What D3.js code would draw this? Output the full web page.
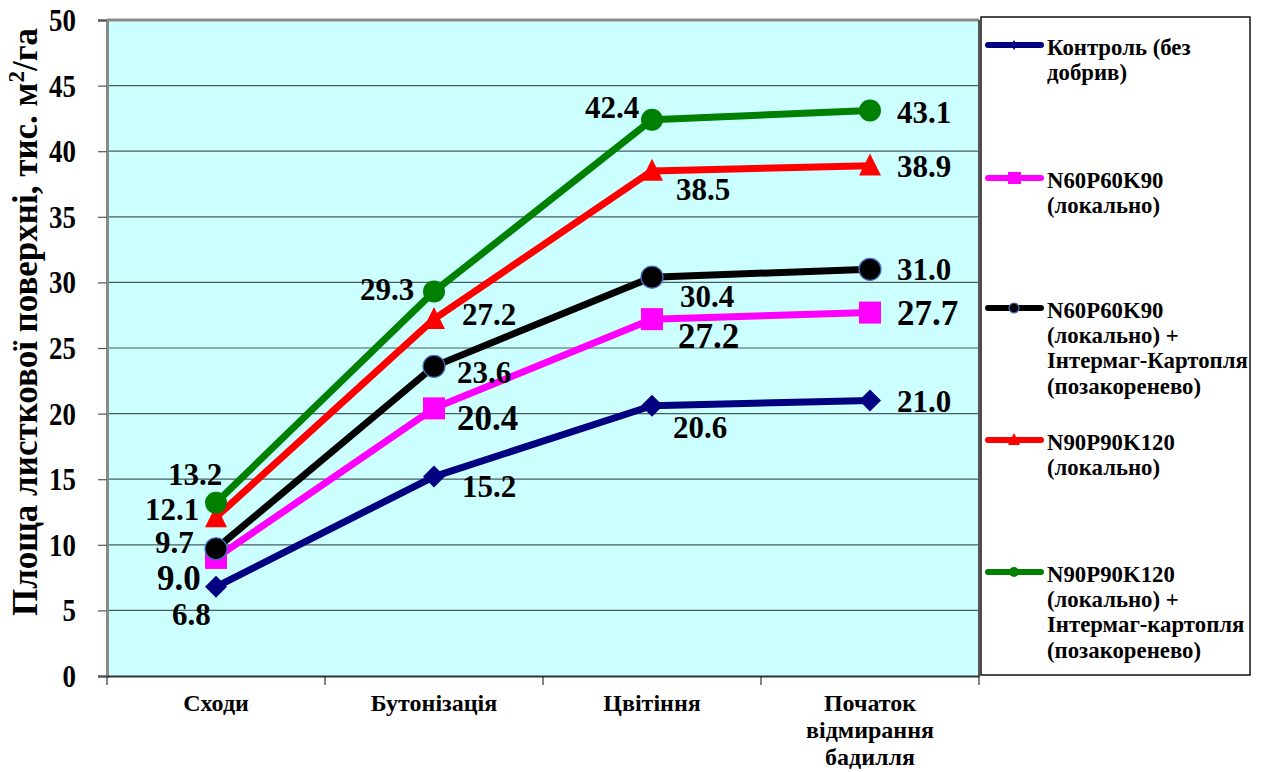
<!DOCTYPE html>
<html>
<head>
<meta charset="utf-8">
<script src="https://cdn.jsdelivr.net/npm/d3@7"></script>
<style>
  html, body { margin: 0; padding: 0; background: #ffffff; }
  svg { display: block; }
</style>
</head>
<body>
<svg id="chart" width="1261" height="772"></svg>
<script>
// Growth phases (x categories)
const categories = ["Сходи", "Бутонізація", "Цвітіння", "Початок\nвідмирання\nбадилля"];

// Leaf surface area, thousand m²/ha, per variant
const control        = [6.8, 15.2, 20.6, 21.0];
const npk60          = [9.0, 20.4, 27.2, 27.7];
const npk60Intermag  = [9.7, 23.6, 30.4, 31.0];
const npk90          = [12.1, 27.2, 38.5, 38.9];
const npk90Intermag  = [13.2, 29.3, 42.4, 43.1];

const seriesNames = [
  "Контроль (без\nдобрив)",
  "N60P60K90\n(локально)",
  "N60P60K90\n(локально) +\nІнтермаг-Картопля\n(позакоренево)",
  "N90P90K120\n(локально)",
  "N90P90K120\n(локально) +\nІнтермаг-картопля\n(позакоренево)"
];

const yTicks = [0, 5, 10, 15, 20, 25, 30, 35, 40, 45, 50];

// ---- presentation ----
const FONT = '"Liberation Serif", "Times New Roman", serif';
const styles = [
  { color: "#000080", marker: "diamond", labelSize: 31 },
  { color: "#FF00FF", marker: "square",  labelSize: 35 },
  { color: "#000000", marker: "circleB", labelSize: 31 },
  { color: "#FF0000", marker: "triangle",labelSize: 31 },
  { color: "#008000", marker: "circle",  labelSize: 31 }
];
// value-label placement relative to each point: [dx, dy(baseline)]
const labelOffsets = [
  [[-44, 38], [28, 20], [21, 32], [27, 12]],
  [[-59, 32], [23, 22], [26, 29], [27, 12]],
  [[-61, 4],  [23, 17], [28, 30], [27, 11]],
  [[-71, 3],  [28, 6],  [24, 29], [27, 11]],
  [[-48, -18],[-74, 8], [-67, -2],[27, 12]]
];

const series = [control, npk60, npk60Intermag, npk90, npk90Intermag];

const svg = d3.select("#chart");
const plot = { left: 107, right: 979, top: 20, bottom: 676 };

function txt(sel) {
  return sel.style("font-family", FONT).style("font-weight", "bold").attr("fill", "#000");
}

const x = d3.scaleBand().domain(d3.range(categories.length)).range([plot.left, plot.right]).padding(0);
const cx = i => x(i) + x.bandwidth() / 2;
const y = d3.scaleLinear().domain([0, 50]).range([plot.bottom, plot.top]);

// plot background
svg.append("rect")
  .attr("x", plot.left).attr("y", plot.top)
  .attr("width", plot.right - plot.left).attr("height", plot.bottom - plot.top)
  .attr("fill", "#CCFFFF");

// horizontal gridlines
svg.append("g").selectAll("line").data(yTicks.filter(d => d > 0)).join("line")
  .attr("x1", plot.left).attr("x2", plot.right)
  .attr("y1", d => y(d)).attr("y2", d => y(d))
  .attr("stroke", "#4a5c5c").attr("stroke-width", 1.2);

// plot frame
svg.append("line").attr("x1", plot.left).attr("x2", plot.right).attr("y1", plot.top).attr("y2", plot.top)
  .attr("stroke", "#8a8a8a").attr("stroke-width", 3);
svg.append("line").attr("x1", plot.right).attr("x2", plot.right).attr("y1", plot.top).attr("y2", plot.bottom)
  .attr("stroke", "#555").attr("stroke-width", 2);

// y axis
const yAxis = d3.axisLeft(y).tickValues(yTicks).tickSize(9).tickFormat("");
const gy = svg.append("g").attr("transform", `translate(${plot.left},0)`).call(yAxis);
gy.select(".domain").attr("stroke", "#8a8a8a").attr("stroke-width", 3);
gy.selectAll(".tick line").attr("stroke", "#555").attr("stroke-width", 1.2);

svg.append("g").selectAll("text").data(yTicks).join("text")
  .call(txt)
  .attr("transform", d => `translate(76,${y(d) + 11}) scale(0.84,1)`)
  .attr("text-anchor", "end")
  .attr("font-size", 32)
  .text(d => d);

// x axis
const xAxis = d3.axisBottom(x).tickSize(0).tickFormat("");
const gx = svg.append("g").attr("transform", `translate(0,${plot.bottom})`).call(xAxis);
gx.select(".domain").attr("stroke", "#333").attr("stroke-width", 2);
svg.append("g").selectAll("line").data(d3.range(categories.length + 1)).join("line")
  .attr("x1", i => plot.left + i * x.bandwidth()).attr("x2", i => plot.left + i * x.bandwidth())
  .attr("y1", plot.bottom).attr("y2", plot.bottom + 9)
  .attr("stroke", "#333").attr("stroke-width", 1.2);

const xl = svg.append("g").selectAll("text").data(categories).join("text")
  .call(txt)
  .attr("transform", (d, i) => `translate(${cx(i)},711)`)
  .attr("text-anchor", "middle")
  .attr("font-size", 24);
xl.each(function (d) {
  d3.select(this).selectAll("tspan").data(d.split("\n")).join("tspan")
    .attr("x", 0).attr("dy", (t, k) => k === 0 ? 0 : 27).text(t => t);
});

// y axis title
const yt = svg.append("text")
  .call(txt)
  .attr("transform", "translate(37,322) rotate(-90)")
  .attr("text-anchor", "middle")
  .attr("font-size", 35);
yt.append("tspan").text("Площа листкової поверхні, тис. м");
yt.append("tspan").attr("dy", -13).attr("font-size", 23).text("2");
yt.append("tspan").attr("dy", 13).text("/га");

// markers
function drawMarker(g, type, color, px, py, s) {
  if (type === "diamond") {
    const r = s / 2;
    g.append("path").attr("d", `M${px},${py - r}L${px + r},${py}L${px},${py + r}L${px - r},${py}Z`).attr("fill", color);
  } else if (type === "square") {
    g.append("rect").attr("x", px - s / 2).attr("y", py - s / 2).attr("width", s).attr("height", s).attr("fill", color);
  } else if (type === "triangle") {
    g.append("path").attr("d", `M${px},${py - s * 0.55}L${px + s / 2},${py + s * 0.45}L${px - s / 2},${py + s * 0.45}Z`)
      .attr("fill", color);
  } else if (type === "circleB") {
    g.append("circle").attr("cx", px).attr("cy", py).attr("r", s / 2).attr("fill", color)
      .attr("stroke", "#4a6fc4").attr("stroke-width", 1.2);
  } else {
    g.append("circle").attr("cx", px).attr("cy", py).attr("r", s / 2).attr("fill", color);
  }
}

const line = d3.line().x((d, i) => cx(i)).y(d => y(d));
series.forEach((vals, si) => {
  const st = styles[si];
  const g = svg.append("g");
  g.append("path").datum(vals).attr("d", line)
    .attr("fill", "none").attr("stroke", st.color).attr("stroke-width", 7).attr("stroke-linejoin", "round");
  vals.forEach((v, i) => drawMarker(g, st.marker, st.color, cx(i), y(v), 22));
});

// value labels
series.forEach((vals, si) => {
  svg.append("g").selectAll("text").data(vals).join("text")
    .call(txt)
    .attr("x", (d, i) => cx(i) + labelOffsets[si][i][0])
    .attr("y", (d, i) => y(d) + labelOffsets[si][i][1])
    .attr("font-size", styles[si].labelSize)
    .text(d => d3.format(".1f")(d));
});

// legend
const lg = svg.append("g");
lg.append("rect").attr("x", 981).attr("y", 17).attr("width", 269).attr("height", 658)
  .attr("fill", "#fff").attr("stroke", "#111").attr("stroke-width", 1.5);
const legendY = [45, 178, 308, 440, 572];
seriesNames.forEach((name, si) => {
  const st = styles[si];
  const ly = legendY[si];
  lg.append("line").attr("x1", 988).attr("x2", 1041).attr("y1", ly).attr("y2", ly)
    .attr("stroke", st.color).attr("stroke-width", 6).attr("stroke-linecap", "round");
  const mx = 1014;
  if (st.marker === "diamond") {
    lg.append("path").attr("d", `M${mx},${ly - 5}L${mx + 3},${ly}L${mx},${ly + 5}L${mx - 3},${ly}Z`).attr("fill", st.color);
  } else if (st.marker === "square") {
    lg.append("rect").attr("x", mx - 6).attr("y", ly - 6).attr("width", 13).attr("height", 12).attr("fill", st.color);
  } else if (st.marker === "triangle") {
    lg.append("path").attr("d", `M${mx},${ly - 7}L${mx + 6},${ly + 5}L${mx - 6},${ly + 5}Z`).attr("fill", st.color);
  } else if (st.marker === "circleB") {
    lg.append("circle").attr("cx", mx).attr("cy", ly).attr("r", 5).attr("fill", st.color)
      .attr("stroke", "#4a6fc4").attr("stroke-width", 1.2);
  } else {
    lg.append("circle").attr("cx", mx).attr("cy", ly).attr("r", 5).attr("fill", st.color);
  }
  const t = lg.append("text")
    .call(txt)
    .attr("transform", `translate(1047,${ly + 9.5}) scale(0.95,1)`)
    .attr("font-size", 24);
  t.selectAll("tspan").data(name.split("\n")).join("tspan")
    .attr("x", 0).attr("dy", (d, k) => k === 0 ? 0 : 25.5).text(d => d);
});
</script>
</body>
</html>
